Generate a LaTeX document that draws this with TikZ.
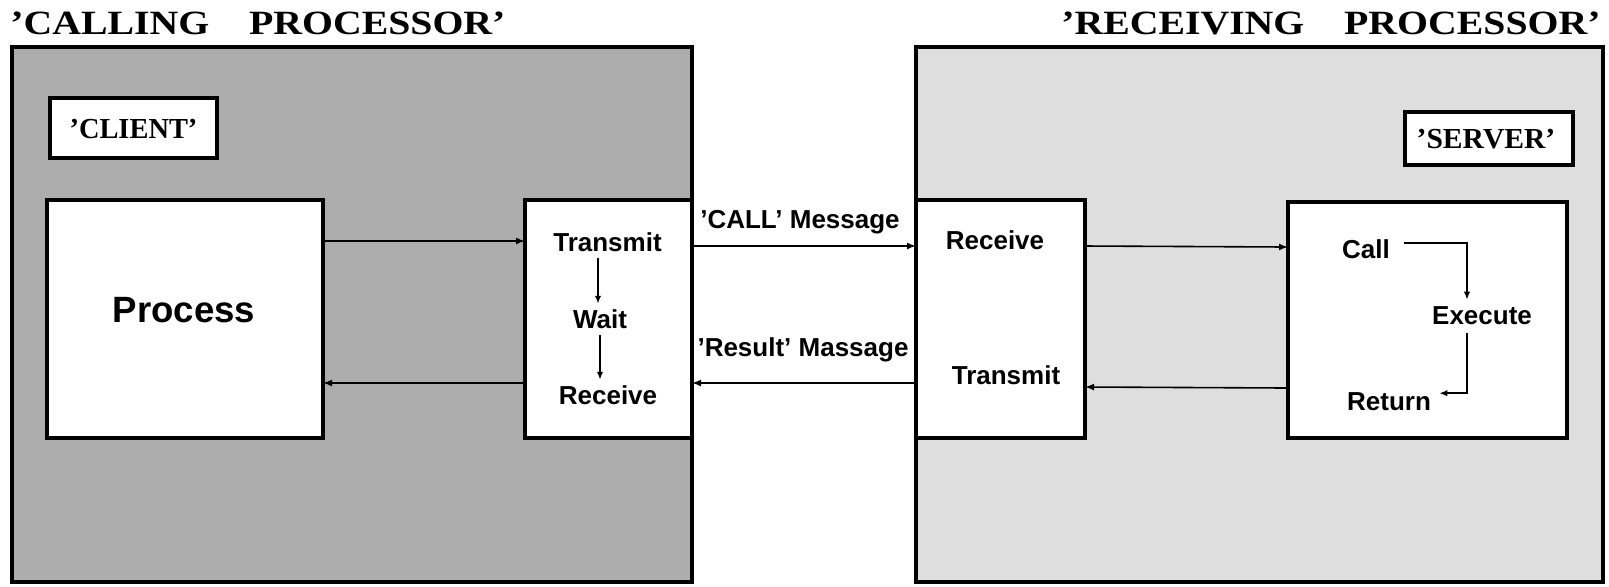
\documentclass[tikz,border=0pt]{standalone}
\usepackage{fontspec}
\setmainfont{Liberation Serif}
\setsansfont{Liberation Sans}
\usetikzlibrary{arrows.meta,calc}
\definecolor{densegray}{gray}{0.68}
\definecolor{lightdots}{gray}{0.87}
\begin{document}
\begin{tikzpicture}[x=0.5pt,y=-0.5pt,
  frame/.style={draw,line width=2pt,inner sep=0pt,outer sep=0pt},
  wbox/.style={frame,fill=white},
  title/.style={font=\fontsize{17pt}{18pt}\selectfont\rmfamily\bfseries,inner sep=0pt},
  tag/.style={font=\fontsize{14.5pt}{16pt}\selectfont\rmfamily\bfseries,inner sep=0pt},
  lbl/.style={font=\fontsize{13pt}{15pt}\selectfont\sffamily\bfseries,inner sep=0pt,anchor=base},
  arr/.style={line width=0.8pt,-{Latex[length=4.5pt,width=3.5pt]}},
  sarr/.style={line width=0.9pt,-{Latex[length=4pt,width=3.2pt]}}]
\useasboundingbox (0,0) rectangle (1609,586);
% titles
\node[title,anchor=base west] (ttl) at (10,34) {\scalebox{1.17}[1]{'CALLING\hspace{17pt}PROCESSOR'}};
\node[title,anchor=base east] (ttr) at (1601,34) {\scalebox{1.17}[1]{'RECEIVING\hspace{17pt}PROCESSOR'}};
% outer processor boxes
\node[frame,fill=densegray,minimum width=340pt,minimum height=267.5pt] (lo) at (352,314.5) {};
\node[frame,fill=lightdots,minimum width=343.5pt,minimum height=267.5pt] (ro) at (1259.5,314.5) {};
% labels
\node[wbox,minimum width=83.5pt,minimum height=30pt] (client) at (133.5,128) {};
\node[tag] (clientt) at (133.5,129) {\scalebox{0.98}[1]{'CLIENT'}};
\node[wbox,minimum width=84pt,minimum height=26.5pt] (server) at (1489,138.5) {};
\node[tag] (servert) at (1486,139) {\scalebox{1.02}[1]{'SERVER'}};
% inner boxes
\node[wbox,minimum width=138pt,minimum height=119pt] (process) at (185,319) {};
\node[wbox,minimum width=83.5pt,minimum height=119pt] (twr) at (608.5,319) {};
\node[wbox,minimum width=84.5pt,minimum height=119pt] (rt) at (1000.5,319) {};
\node[wbox,minimum width=139.5pt,minimum height=118pt] (srv) at (1427.5,320) {};
% texts
\node[font=\fontsize{18.3pt}{20pt}\selectfont\sffamily\bfseries,inner sep=0pt,anchor=base] (proc) at (184,322) {Process};
\node[lbl] (t1) at (607.5,251) {Transmit};
\node[lbl] (w1) at (600,328) {Wait};
\node[lbl] (r1) at (608,404) {Receive};
\node[lbl] (r2) at (995,249) {Receive};
\node[lbl] (t2) at (1006,384) {Transmit};
\node[lbl] (call) at (1366,258) {Call};
\node[lbl] (exec) at (1482,324) {Execute};
\node[lbl] (ret) at (1389,410) {Return};
\node[lbl] (callmsg) at (800,228) {'CALL' Message};
\node[lbl] (resmsg) at (803,356) {'Result' Massage};
% connectors
\draw[arr] ($(process.east)+(0,-78)$) -- ($(twr.west)+(0,-78)$);
\draw[arr] ($(twr.west)+(0,64)$) -- ($(process.east)+(0,64)$);
\draw[arr] ($(twr.east)+(0,-73)$) -- ($(rt.west)+(0,-73)$);
\draw[arr] ($(rt.west)+(0,64)$) -- ($(twr.east)+(0,64)$);
\draw[arr] ($(rt.east)+(0,-73)$) -- ($(srv.west)+(0,-73)$);
\draw[arr] ($(srv.west)+(0,68)$) -- ($(rt.east)+(0,68)$);
\draw[sarr] ($(t1.south -| w1)+(-2,6)$) -- ($(w1.north)+(-2,-5)$);
\draw[sarr] ($(w1.south)+(0,6)$) -- ($(r1.north -| w1)+(0,-5)$);
\draw[sarr] ($(call.east)+(14,-6)$) -| ($(exec.north)+(-15,-6)$);
\draw[sarr] ($(exec.south)+(-15,8)$) |- ($(ret.east)+(8,-8)$);
\end{tikzpicture}
\end{document}
